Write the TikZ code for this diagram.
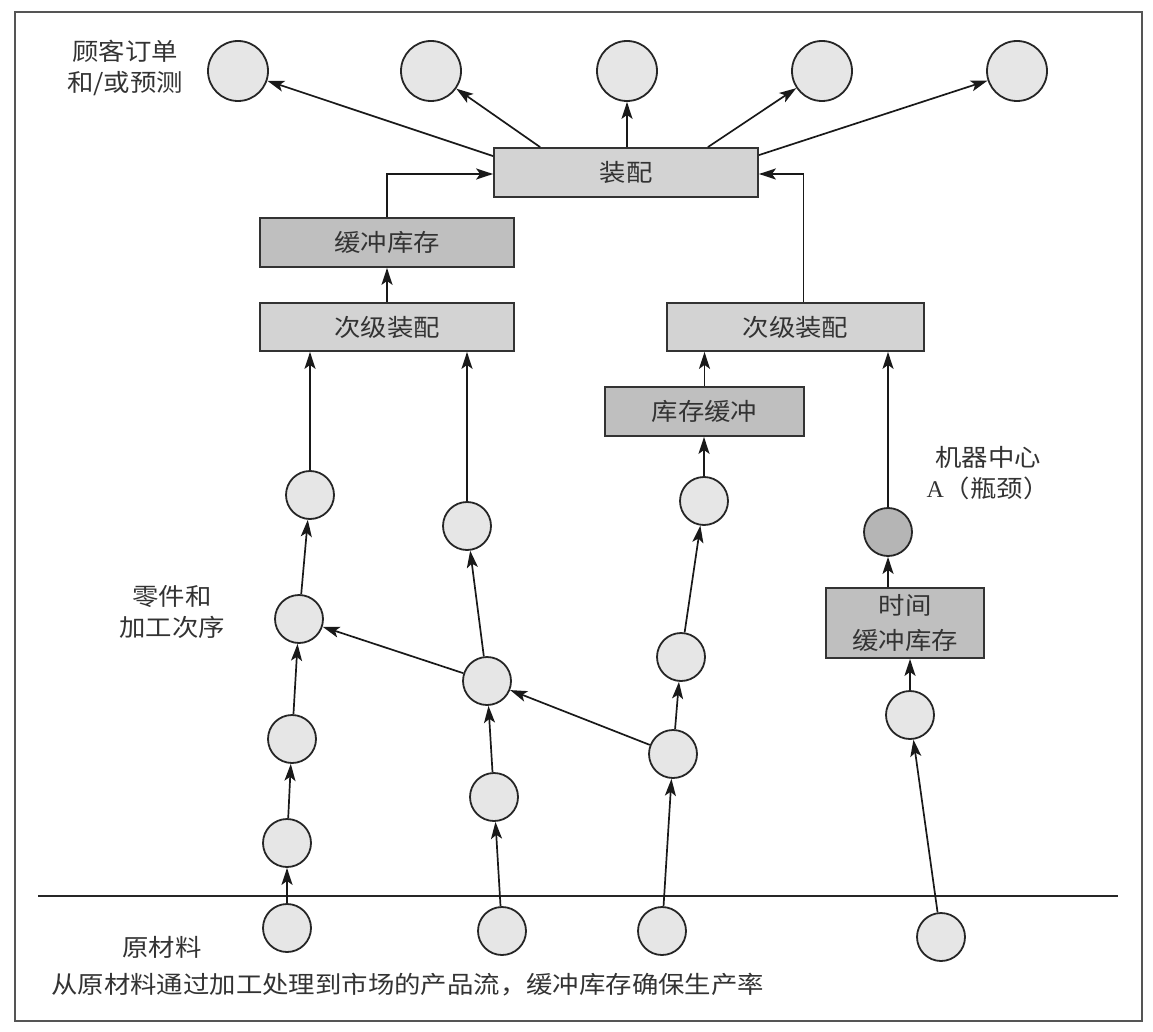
\documentclass[tikz,border=0pt]{standalone}
\usepackage{fontspec}
\setmainfont{Liberation Serif}
\newfontfamily\cjk{Noto Sans CJK SC}[FakeStretch=1.1]
\usetikzlibrary{arrows.meta}
\definecolor{cfill}{HTML}{E6E6E6}
\definecolor{bfill}{HTML}{D3D3D3}
\definecolor{dfill}{HTML}{BFBFBF}
\definecolor{nfill}{HTML}{B5B5B5}
\definecolor{txt}{HTML}{333333}
\definecolor{frame}{HTML}{555555}
\begin{document}
\begin{tikzpicture}[x=1pt,y=-1pt,
  every node/.style={font=\cjk\fontsize{24}{31}\selectfont, text=txt},
  circ/.style={circle, draw=black!85, line width=1.8pt, fill=cfill, minimum size=48pt, inner sep=0pt},
  topcirc/.style={circ, minimum size=60pt},
  neck/.style={circ, fill=nfill},
  lbox/.style={rectangle, draw=black!80, line width=1.8pt, fill=bfill, minimum height=49pt, inner sep=0pt},
  dbox/.style={lbox, fill=dfill},
  lbl/.style={align=center, inner sep=0pt},
  arr/.style={line width=1.7pt, draw=black!90, -{Stealth[length=17pt,width=11pt,inset=4pt]}}
]
\useasboundingbox (0,0) rectangle (1153,1032);
\draw[frame, line width=2.5pt] (15,12) rectangle (1142,1021);

% top circles
\node[topcirc] (t1) at (238,71) {};
\node[topcirc] (t2) at (431,71) {};
\node[topcirc] (t3) at (627,71) {};
\node[topcirc] (t4) at (822,71) {};
\node[topcirc] (t5) at (1017,71) {};

% boxes
\node[lbox, minimum width=264pt] (asm) at (626,172.5) {装配};
\node[dbox, minimum width=254pt] (buf) at (387,242.5) {缓冲库存};
\node[lbox, minimum width=254pt, minimum height=48pt] (sL) at (387,327) {次级装配};
\node[lbox, minimum width=257pt, minimum height=48pt] (sR) at (795.5,327) {次级装配};
\node[dbox, minimum width=199pt] (kc) at (704.5,411.5) {库存缓冲};
\node[dbox, minimum width=158pt, minimum height=70pt, align=center, font=\cjk\fontsize{24}{35}\selectfont] (tb) at (905,623) {时间\\缓冲库存};

% circles column 1
\node[circ] (c1a) at (287,928) {};
\node[circ] (c1b) at (287,843) {};
\node[circ] (c1c) at (292,739) {};
\node[circ] (c1d) at (299,619) {};
\node[circ] (c1e) at (310,495) {};
% column 2
\node[circ] (c2a) at (502,931) {};
\node[circ] (c2b) at (494,797) {};
\node[circ] (c2c) at (487,681) {};
\node[circ] (c2d) at (467,526) {};
% column 3
\node[circ] (c3a) at (662,931) {};
\node[circ] (c3b) at (673,754) {};
\node[circ] (c3c) at (681,657) {};
\node[circ] (c3d) at (704,501) {};
% column 4
\node[circ] (c4a) at (941,937) {};
\node[circ] (c4b) at (910,715) {};
\node[neck] (c4c) at (888,532) {};

% labels
\node[lbl] (cust) at (125,68) {顾客订单\\和/或预测};
\node[lbl] (parts) at (172,612) {零件和\\加工次序};
\node[lbl] (mach) at (988,473) {机器中心\\{\rmfamily A}（瓶颈）};
\node[lbl] (raw) at (162,947) {原材料};
\node[lbl, anchor=west] (cap) at (51,985) {从原材料通过加工处理到市场的产品流，缓冲库存确保生产率};

% raw material line
\coordinate (rl) at (38,896);
\coordinate (rr) at (1118,896);
\draw[line width=1.6pt, black!85] (rl) -- (rr);

% assembly to customers
\draw[arr] ([yshift=-9pt]asm.north west) -- (t1);
\draw[arr] ([xshift=47pt]asm.north west) -- (t2);
\draw[arr] (t3 |- asm.north) -- (t3);
\draw[arr] ([xshift=-51pt]asm.north east) -- (t4);
\draw[arr] ([yshift=-8pt]asm.north east) -- (t5);

% into assembly
\draw[arr] (buf.north) |- ([yshift=-1.5pt]asm.west);
\draw[arr] ([xshift=8pt]sR.north) |- ([yshift=-1.5pt]asm.east);
\draw[arr] (sL.north) -- (buf.south);

% column 1
\draw[arr] (c1a) -- (c1b);
\draw[arr] (c1b) -- (c1c);
\draw[arr] (c1c) -- (c1d);
\draw[arr] (c1d) -- (c1e);
\draw[arr] (c1e) -- (c1e |- sL.south);
% column 2
\draw[arr] (c2a) -- (c2b);
\draw[arr] (c2b) -- (c2c);
\draw[arr] (c2c) -- (c2d);
\draw[arr] (c2c) -- (c1d);
\draw[arr] (c2d) -- (c2d |- sL.south);
% column 3
\draw[arr] (c3a) -- (c3b);
\draw[arr] (c3b) -- (c3c);
\draw[arr] (c3b) -- (c2c);
\draw[arr] (c3c) -- (c3d);
\draw[arr] (c3d) -- (c3d |- kc.south);
\draw[arr] (kc.north) -- (kc.north |- sR.south);
% column 4
\draw[arr] (c4a) -- (c4b);
\draw[arr] (c4b) -- (c4b |- tb.south);
\draw[arr] (c4c |- tb.north) -- (c4c);
\draw[arr] (c4c) -- (c4c |- sR.south);
\end{tikzpicture}
\end{document}
